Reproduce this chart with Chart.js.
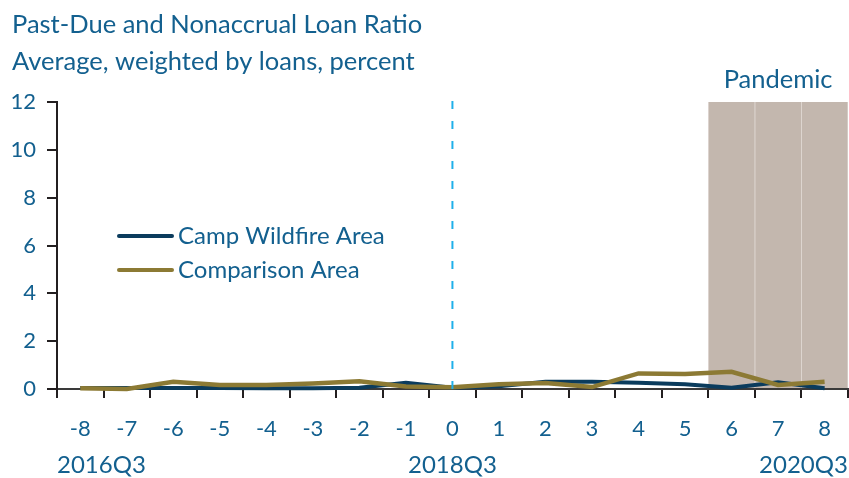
<!DOCTYPE html>
<html>
<head>
<meta charset="utf-8">
<script src="https://cdn.jsdelivr.net/npm/chart.js@4"></script>
<style>
body{margin:0;background:#fff}
</style>
</head>
<body>
<canvas id="chart" width="849" height="478"></canvas>
<script>
const quarters=["-8","-7","-6","-5","-4","-3","-2","-1","0","1","2","3","4","5","6","7","8"]
const campArea=[0.04,0.04,0.04,0.04,0.03,0.03,0.05,0.26,0.05,0.12,0.3,0.3,0.26,0.2,0.05,0.28,0.03]
const comparisonArea=[0.03,0.0,0.3,0.17,0.17,0.23,0.32,0.1,0.07,0.2,0.25,0.08,0.65,0.63,0.72,0.17,0.3]
const pandemic=[null,null,null,null,null,null,null,null,null,null,null,null,null,null,12,12,12]
const dateLabels=[{at:"-8",text:"2016Q3"},{at:"0",text:"2018Q3"},{at:"8",text:"2020Q3"}]
const fireAt="0"

const BLUE="#13608f"
const NAVY="#0b3c5d"
const GOLD="#8c7a34"
const FONT="Lato"

const extras={
id:"extras",
afterDatasetsDraw(chart){
const c=chart.ctx
const x=chart.scales.x
const a=chart.chartArea

// fire date
c.save()
c.strokeStyle="#1fb0ea"
c.lineWidth=2
c.setLineDash([8,12])
const fx=x.getPixelForValue(quarters.indexOf(fireAt))
c.beginPath()
c.moveTo(fx,a.top-1)
c.lineTo(fx,a.bottom)
c.stroke()
c.restore()

c.save()
c.fillStyle=BLUE
c.textBaseline="alphabetic"

// titles
c.font="25.5px "+FONT
c.textAlign="left"
c.fillText("Past-Due and Nonaccrual Loan Ratio",12,33)
c.fillText("Average, weighted by loans, percent",12,70)

// pandemic label
const i0=pandemic.findIndex(v=>v!==null)
const px=(x.getPixelForValue(i0-0.5)+x.getPixelForValue(pandemic.length-0.5))/2
c.textAlign="center"
c.fillText("Pandemic",px,88)

// date row
c.font="24px "+FONT
dateLabels.forEach((d,k)=>{
const i=quarters.indexOf(d.at)
let tx=x.getPixelForValue(i)
if(k==0){c.textAlign="left";tx=a.left}
else if(k==dateLabels.length-1){c.textAlign="right";tx=a.right}
else c.textAlign="center"
c.fillText(d.text,tx,473)
})

// legend
const items=[{t:"Camp Wildfire Area",col:NAVY},{t:"Comparison Area",col:GOLD}]
items.forEach((it,k)=>{
const y=236+k*34
c.strokeStyle=it.col
c.lineWidth=4
c.lineCap="round"
c.beginPath()
c.moveTo(119,y)
c.lineTo(172,y)
c.stroke()
c.textAlign="left"
c.textBaseline="middle"
c.fillText(it.t,178,y)
})
c.restore()
}
}

new Chart(document.getElementById("chart"),{
type:"bar",
data:{
labels:quarters,
datasets:[
{type:"line",label:"Comparison Area",data:comparisonArea,borderColor:GOLD,borderWidth:4.5,pointRadius:0,tension:0,clip:6,order:1},
{type:"line",label:"Camp Wildfire Area",data:campArea,borderColor:NAVY,borderWidth:4,pointRadius:0,tension:0,clip:6,order:2},
{type:"bar",label:"Pandemic",data:pandemic,backgroundColor:"#c3b7ae",borderColor:"#ddd5cf",borderWidth:{left:1,right:0,top:0,bottom:0},barPercentage:1,categoryPercentage:1,order:3}
]
},
options:{
responsive:false,
animation:false,
devicePixelRatio:1,
layout:{padding:{top:102,right:1,left:0,bottom:0}},
plugins:{legend:{display:false},tooltip:{enabled:false},title:{display:false}},
scales:{
x:{
offset:true,
grid:{offset:true,drawOnChartArea:false,tickLength:9,color:"#231f20",lineWidth:2},
border:{color:"#3a3a3a",width:2},
ticks:{color:BLUE,font:{family:FONT,size:22},padding:18,maxRotation:0,autoSkip:false},
afterFit(s){s.height=89}
},
y:{
min:0,max:12,
grid:{drawOnChartArea:false,tickLength:10,color:"#231f20",lineWidth:2},
border:{color:"#231f20",width:2},
ticks:{stepSize:2,color:BLUE,font:{family:FONT,size:22},padding:11},
afterFit(s){s.width=57}
}
}
},
plugins:[extras]
})
</script>
</body>
</html>
